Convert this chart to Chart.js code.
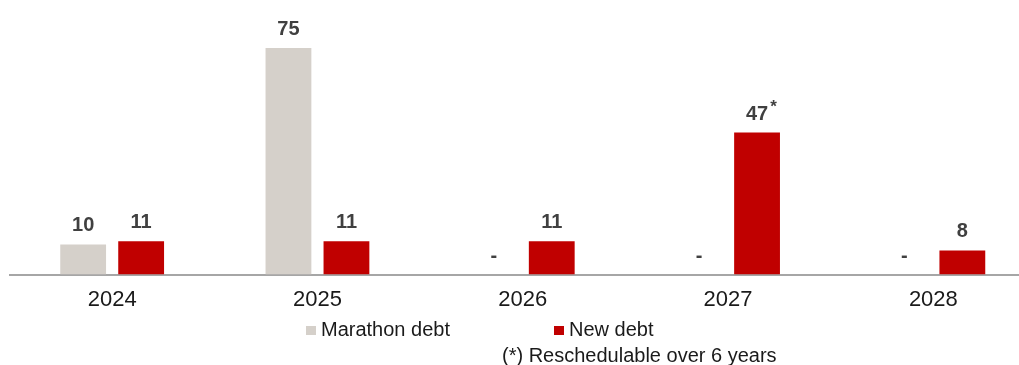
<!DOCTYPE html>
<html>
<head>
<meta charset="utf-8">
<script src="https://cdn.jsdelivr.net/npm/chart.js@4.4.1/dist/chart.umd.min.js"></script>
<style>
  html, body { margin: 0; padding: 0; background: #fff; overflow: hidden; width: 1019px; height: 365px; }
  #wrap { position: absolute; left: 0; top: 0; width: 1036px; height: 325px; }
  .legend { position: absolute; left: 306px; top: 318px; display: flex; gap: 104px;
    font: 20px "Liberation Sans", Arial, sans-serif; color: #1a1a1a; }
  .legend span { display: flex; align-items: center; }
  .legend i { display: inline-block; width: 10px; height: 9px; margin-right: 5px; margin-top: 2px; }
  .note { position: absolute; left: 502px; top: 344px;
    font: 20px "Liberation Sans", Arial, sans-serif; color: #1a1a1a; white-space: nowrap; }
</style>
</head>
<body>
<div id="wrap"><canvas id="debtChart" aria-label="Debt maturity by year"></canvas></div>
<div class="legend" id="legend"></div>
<div class="note">(*) Reschedulable over 6 years</div>
<script>
const years = ['2024', '2025', '2026', '2027', '2028'];
const marathonDebt = [10, 75, 0, 0, 0];
const newDebt = [11, 11, 11, 47, 8];
// footnote marks on the new debt labels
const newDebtMarks = ['', '', '', '*', ''];

const GREY = '#D5D0CA';
const RED = '#C00000';
const LABEL_FONT = 'bold 20px "Liberation Sans", Arial, sans-serif';

const valueLabels = {
  id: 'valueLabels',
  afterDatasetsDraw(chart) {
    const { ctx } = chart;
    ctx.save();
    ctx.font = LABEL_FONT;
    ctx.fillStyle = '#404040';
    ctx.textAlign = 'center';
    ctx.textBaseline = 'alphabetic';
    chart.data.datasets.forEach((ds, di) => {
      chart.getDatasetMeta(di).data.forEach((bar, i) => {
        const v = ds.data[i];
        const text = v === 0 ? '-' : String(v);
        const y = bar.y - 13;
        ctx.fillText(text, bar.x, y);
        const mark = ds.marks ? ds.marks[i] : '';
        if (mark) {
          const w = ctx.measureText(text).width;
          ctx.save();
          ctx.font = 'bold 17px "Liberation Sans", Arial, sans-serif';
          ctx.textAlign = 'left';
          ctx.fillText(mark, bar.x + w / 2 + 2, y - 8);
          ctx.restore();
        }
      });
    });
    ctx.restore();
  },
};

const chart = new Chart(document.getElementById('debtChart'), {
  type: 'bar',
  data: {
    labels: years,
    datasets: [
      { label: 'Marathon debt', data: marathonDebt, backgroundColor: GREY },
      { label: 'New debt', data: newDebt, backgroundColor: RED, marks: newDebtMarks },
    ],
  },
  options: {
    responsive: true,
    maintainAspectRatio: false,
    animation: false,
    layout: { padding: { left: 9.5, right: 0, top: 48, bottom: 0 } },
    datasets: { bar: { categoryPercentage: 0.565, barPercentage: 0.79 } },
    plugins: { legend: { display: false }, tooltip: { enabled: false } },
    scales: {
      x: {
        grid: { display: false, drawTicks: false },
        border: { display: true, color: '#A6A6A6', width: 2 },
        ticks: { color: '#1a1a1a', padding: 12, font: { family: '"Liberation Sans", Arial, sans-serif', size: 22 } },
      },
      y: { display: false, min: 0, max: 75 },
    },
  },
  plugins: [valueLabels],
});

document.getElementById('legend').innerHTML = chart.data.datasets
  .map((ds) => `<span><i style="background:${ds.backgroundColor}"></i>${ds.label}</span>`)
  .join('');
</script>
</body>
</html>
